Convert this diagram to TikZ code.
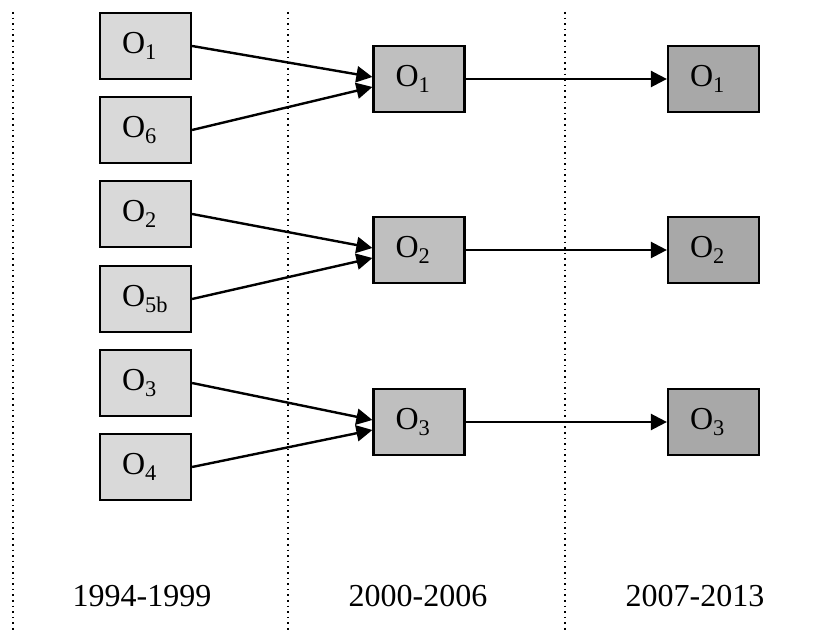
\documentclass[tikz,border=0pt]{standalone}
\usepackage{fontspec}
\setmainfont{Liberation Serif}
\usetikzlibrary{arrows.meta}
\begin{document}
\begin{tikzpicture}[x=0.5pt,y=-0.5pt,>={Triangle[length=8pt,width=8pt]},
  font=\fontsize{16}{19}\selectfont,
  box/.style = {draw, line width=1.1pt, minimum height=33pt, text width=23.5pt, inner xsep=11pt, inner ysep=0pt, align=left},
  old/.style = {box, fill=gray!30},
  mid/.style = {box, fill=gray!50},
  new/.style = {box, fill=gray!68},
  link/.style = {->, line width=1.2pt},]
\useasboundingbox (0,0) rectangle (832,630);
\draw[dotted, line width=0.8pt] (13,12)--(13,630);
\draw[dotted, line width=0.8pt] (288,12)--(288,630);
\draw[dotted, line width=0.8pt] (565,12)--(565,630);
\node (A1) at (145.5,46)[old] {O\textsubscript{1}};
\node (A6) at (145.5,130)[old] {O\textsubscript{6}};
\node (A2) at (145.5,214)[old] {O\textsubscript{2}};
\node (A5) at (145.5,299)[old] {O\textsubscript{5b}};
\node (A3) at (145.5,383)[old] {O\textsubscript{3}};
\node (A4) at (145.5,467)[old] {O\textsubscript{4}};
\node (B1) at (419,79)[mid] {O\textsubscript{1}};
\node (B2) at (419,250)[mid] {O\textsubscript{2}};
\node (B3) at (419,422)[mid] {O\textsubscript{3}};
\node (C1) at (713.5,79)[new] {O\textsubscript{1}};
\node (C2) at (713.5,250)[new] {O\textsubscript{2}};
\node (C3) at (713.5,422)[new] {O\textsubscript{3}};
\node (P1) at (142,596) {1994-1999};
\node (P2) at (418,596) {2000-2006};
\node (P3) at (695,596) {2007-2013};

\draw[link] (A1.east)--([yshift=1pt]B1.west);
\draw[link] (A6.east)--([yshift=-4pt]B1.west);
\draw[link] (A2.east)--([yshift=1pt]B2.west);
\draw[link] (A5.east)--([yshift=-4pt]B2.west);
\draw[link] (A3.east)--([yshift=1pt]B3.west);
\draw[link] (A4.east)--([yshift=-4pt]B3.west);
\draw[link] (B1)--(C1);
\draw[link] (B2)--(C2);
\draw[link] (B3)--(C3);
\end{tikzpicture}
\end{document}
